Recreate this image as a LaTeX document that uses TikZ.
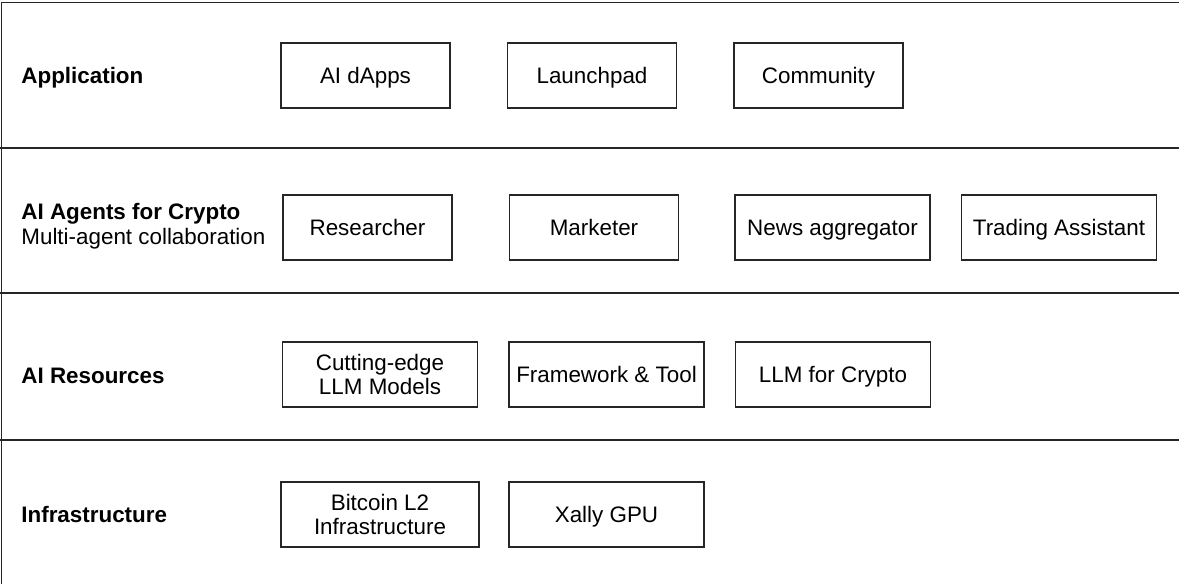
\documentclass[tikz,border=0pt]{standalone}
\usepackage{fontspec}
\setmainfont{Liberation Sans}
\usepackage{tikz}

\tikzset{
  layerbox/.style={draw=black!85,line width=0.75pt,minimum width=84.5pt,minimum height=32.5pt,inner sep=1pt,align=center,font=\fontsize{11.2}{12.4}\selectfont},
  onerow/.style={text height=9.3pt,text depth=1.3pt},
  widebox/.style={layerbox,minimum width=97.5pt},
  layerlabel/.style={anchor=west,inner sep=0pt,align=left,font=\fontsize{11.2}{12.5}\selectfont},
  layerline/.style={draw=black!85,line width=0.75pt}
}

\begin{document}
\begin{tikzpicture}[x=0.5pt,y=-0.5pt,node distance=113.25pt]
  \useasboundingbox (0,0) rectangle (1179,584);
  \draw[layerline] (1179,2.5) -- (1.5,2.5) -- (1.5,584);
  \draw[layerline] (0,148) -- (1179,148);
  \draw[layerline] (0,293) -- (1179,293);
  \draw[layerline] (0,440) -- (1179,440);

  \node(app)[layerlabel,onerow] at (21,75) {\textbf{Application}};
  \node(dapps)[layerbox,onerow] at (365.5,75.5) {AI dApps};
  \node(launch)[layerbox,onerow,right of=dapps] {Launchpad};
  \node(comm)[layerbox,onerow,right of=launch] {Community};

  \node(agents)[layerlabel] at (21,226.5) {\textbf{AI Agents for Crypto}\\Multi-agent collaboration};
  \node(research)[layerbox,onerow] at (367.5,227.5) {Researcher};
  \node(market)[layerbox,onerow,right of=research] {Marketer};
  \node(news)[widebox,onerow,right of=market,xshift=6pt] {News aggregator};
  \node(trade)[widebox,onerow,right of=news] {Trading Assistant};

  \node(res)[layerlabel,onerow] at (21,375) {\textbf{AI Resources}};
  \node(llm)[widebox] at (380,374.5) {Cutting-edge\\LLM Models};
  \node(frame)[widebox,onerow,right of=llm] {Framework \& Tool};
  \node(crypto)[widebox,onerow,right of=frame] {LLM for Crypto};

  \node(infra)[layerlabel,onerow] at (21,514) {\textbf{Infrastructure}};
  \node(btc)[widebox,minimum width=99pt] at (380,514.5) {Bitcoin L2\\Infrastructure};
  \node(gpu)[widebox,onerow,right of=btc] {Xally GPU};
\end{tikzpicture}
\end{document}
